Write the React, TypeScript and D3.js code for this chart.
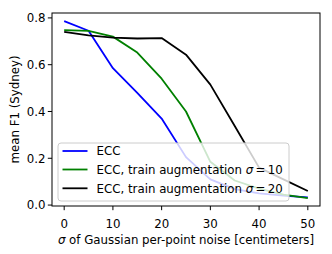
import React from 'react';
import * as d3 from 'd3';

const sigmas = [0, 5, 10, 15, 20, 25, 30, 35, 40, 45, 50];
const eccValues = [0.786, 0.745, 0.585, 0.48, 0.37, 0.205, 0.11, 0.068, 0.05, 0.04, 0.033];
const aug10Values = [0.748, 0.745, 0.72, 0.652, 0.54, 0.4, 0.185, 0.105, 0.07, 0.045, 0.03];
const aug20Values = [0.74, 0.725, 0.716, 0.712, 0.714, 0.643, 0.515, 0.338, 0.16, 0.11, 0.06];
const xTicks = [0, 10, 20, 30, 40, 50];
const yTicks = [0.0, 0.2, 0.4, 0.6, 0.8];

const series = [
  { name: 'ECC', sigma: null as string | null, color: '#0000ff', values: eccValues },
  { name: 'ECC, train augmentation ', sigma: '10', color: '#008000', values: aug10Values },
  { name: 'ECC, train augmentation ', sigma: '20', color: '#000000', values: aug20Values },
];

const W = 332;
const H = 254;
const margin = { left: 52, right: 12, top: 13, bottom: 48 };
const font = 'DejaVu Sans, sans-serif';
const fs = 11.8;

const App = () => {
  const x = d3.scaleLinear().domain([-2.5, 52.5]).range([margin.left, W - margin.right]);
  const y = d3.scaleLinear().domain([-0.004, 0.821]).range([H - margin.bottom, margin.top]);

  const line = d3.line<number>()
    .x((_, i) => x(sigmas[i]))
    .y(d => y(d));

  const bottom = H - margin.bottom;

  // legend box (lower left)
  const lgX = 58;
  const lgY = 143;
  const lgW = 231;
  const lgH = 58;
  const rowY = [151, 169.5, 188.3];

  return (
    <svg width={W} height={H} style={{ position: 'absolute', left: 0, top: 0 }} fontFamily={font}>
      <rect x={0} y={0} width={W} height={H} fill="#fff" />
      {series.map((s, i) => (
        <path key={i} d={line(s.values) ?? ''} fill="none" stroke={s.color} strokeWidth={1.8} strokeLinejoin="round" />
      ))}

      {/* legend */}
      <rect x={lgX} y={lgY} width={lgW} height={lgH} rx={3} fill="#fff" fillOpacity={0.8} stroke="#cccccc" strokeWidth={1} />
      {series.map((s, i) => (
        <g key={i}>
          <line x1={62.5} x2={87.5} y1={rowY[i]} y2={rowY[i]} stroke={s.color} strokeWidth={1.8} />
          <text x={96.5} y={rowY[i] + 4.2} fontSize={fs} fill="#000">
            {s.name}
            {s.sigma && (
              <>
                <tspan fontStyle="italic">σ</tspan>
                <tspan>{'\u2009=\u2009' + s.sigma}</tspan>
              </>
            )}
          </text>
        </g>
      ))}

      {/* frame */}
      <rect x={margin.left} y={margin.top} width={W - margin.right - margin.left} height={bottom - margin.top}
        fill="none" stroke="#000" strokeWidth={1} />

      {xTicks.map(t => (
        <g key={t}>
          <line x1={x(t)} x2={x(t)} y1={bottom} y2={bottom + 4.2} stroke="#000" strokeWidth={1} />
          <text x={x(t)} y={bottom + 21.5} fontSize={fs} textAnchor="middle" fill="#000">{t}</text>
        </g>
      ))}
      {yTicks.map(t => (
        <g key={t}>
          <line x1={margin.left - 4.2} x2={margin.left} y1={y(t)} y2={y(t)} stroke="#000" strokeWidth={1} />
          <text x={margin.left - 6.5} y={y(t) + 4.3} fontSize={fs} textAnchor="end" fill="#000">{t.toFixed(1)}</text>
        </g>
      ))}

      <text x={(margin.left + W - margin.right) / 2} y={243.5} fontSize={fs} textAnchor="middle" fill="#000">
        <tspan fontStyle="italic">σ</tspan> of Gaussian per-point noise [centimeters]
      </text>
      <text transform={`translate(18.5,${(margin.top + bottom) / 2}) rotate(-90)`} fontSize={fs} textAnchor="middle" fill="#000">
        mean F1 (Sydney)
      </text>
    </svg>
  );
};

export default App;
